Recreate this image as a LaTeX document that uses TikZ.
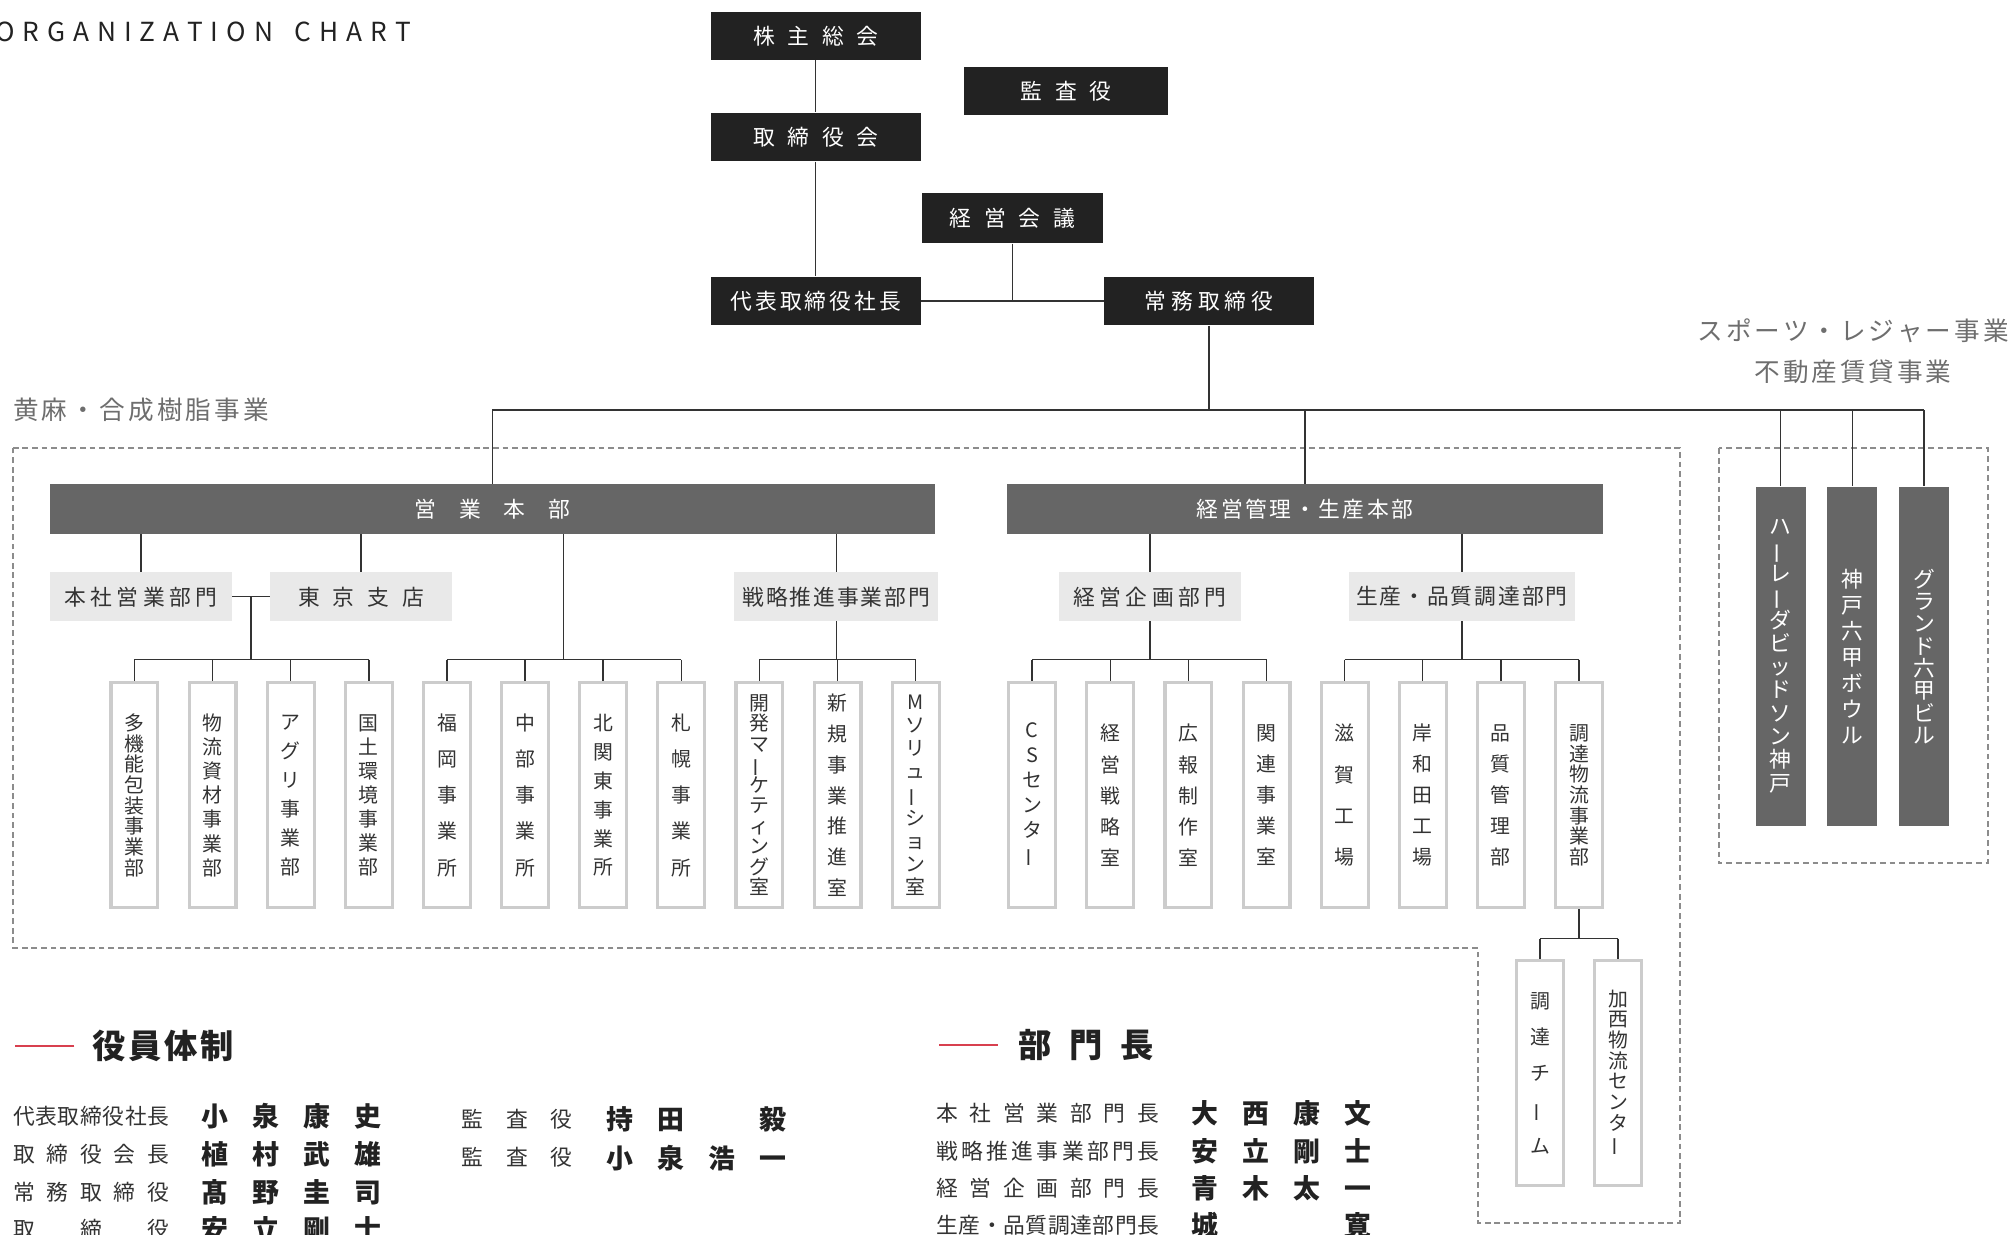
\documentclass[tikz,border=0pt]{standalone}
\usepackage{fontspec}
\setmainfont{Noto Sans CJK JP}
\usepackage{graphicx}
\usepackage{tikz}
\usetikzlibrary{positioning}
\definecolor{orgblack}{RGB}{34,34,34}
\definecolor{orgbar}{RGB}{102,102,102}
\definecolor{orglight}{RGB}{233,233,233}
\definecolor{orgframe}{RGB}{204,204,204}
\definecolor{orgline}{RGB}{51,51,51}
\definecolor{orgzone}{RGB}{140,140,140}
\definecolor{orgred}{RGB}{216,64,79}
\definecolor{orggray}{RGB}{110,110,110}

% letter spacing and vertical stacking of characters
\def\hstop{HSTOP}
\def\vstop{VSTOP}
\newcount\vcnt
\newdimen\vpitch
\newcommand{\spread}[2]{\def\spreadgap{#1}\expandafter\spreadfirst#2\hstop}
\def\spreadfirst#1{#1\spreadloop}
\def\spreadloop#1{\ifx#1\hstop\else\hspace{\spreadgap}#1\expandafter\spreadloop\fi}
\newcommand{\justify}[2]{\makebox[#1][l]{\spread{\fill}{#2}}}
\newcommand{\blank}{\phantom{田}}
\newcommand{\vbar}{\rotatebox[origin=c]{90}{ー}}
\def\vcountloop#1{\ifx#1\vstop\else\advance\vcnt by 1 \expandafter\vcountloop\fi}
\def\vputloop#1{\ifx#1\vstop\else\hbox to 1.2em{\hss#1\hss}\expandafter\vputloop\fi}
\newcommand{\vtext}[2]{\vcnt=0 \expandafter\vcountloop#2\vstop
  \vpitch=#1\relax\ifnum\vcnt>1 \divide\vpitch by \numexpr\vcnt-1\relax\fi
  \vbox{\baselineskip=\vpitch\lineskip=0pt\lineskiplimit=-1000pt\expandafter\vputloop#2\vstop}}

\begin{document}
\begin{tikzpicture}[x=1pt, y=-1pt,
    topbox/.style={fill=orgblack, text=white, inner sep=0pt, minimum width=164pt, minimum height=38pt, font=\fontsize{17}{20}\selectfont},
    hqbar/.style={fill=orgbar, text=white, inner sep=0pt, minimum height=39pt, font=\fontsize{17}{20}\selectfont},
    dept/.style={fill=orglight, text=orgline, inner sep=0pt, minimum width=142pt, minimum height=38pt, font=\fontsize{17}{20}\selectfont},
    unit/.style={draw=orgframe, line width=2.4pt, fill=white, text=orgline, inner sep=0pt, minimum width=36.6pt, minimum height=175.6pt, font=\fontsize{15.5}{15.5}\selectfont},
    lbox/.style={fill=orgbar, text=white, inner sep=0pt, minimum width=39pt, minimum height=265pt, font=\fontsize{17}{17}\selectfont},
    link/.style={draw=orgline, line width=1.1pt},
    zone/.style={draw=orgzone, line width=1.6pt, dash pattern=on 4.5pt off 3pt},
    grouplabel/.style={text=orggray, inner sep=0pt, font=\fontsize{20}{32}\selectfont},
    rowlabel/.style={text=orgline, inner sep=0pt, anchor=west, font=\fontsize{17}{20}\selectfont},
    rowname/.style={text=orgblack, inner sep=0pt, anchor=west, font=\fontsize{21}{24}\selectfont\bfseries},
    heading/.style={text=orgblack, inner sep=0pt, anchor=west, font=\fontsize{26}{30}\selectfont\bfseries}
]
\useasboundingbox (0,0) rectangle (1568,964);
\clip (0,0) rectangle (1568,964);

\node[text=orgblack, inner sep=0pt, anchor=west, font=\fontsize{20.5}{24}\selectfont] (title) at (-4,25) {\spread{6.2pt}{ORGANIZATION~CHART}};

% dashed business areas
\draw[zone] (10,350) -- (1312,350) -- (1312,955) -- (1154,955) -- (1154,740) -- (10,740) -- cycle;
\draw[zone] (1342,350) rectangle (1552,674);
\node[grouplabel, anchor=west] (jute) at (10,320) {\spread{2.5pt}{黄麻・合成樹脂事業}};
\node[grouplabel, align=center] (leisure) at (1447,274) {\spread{2.3pt}{スポーツ・レジャー事業}\\\spread{2.3pt}{不動産賃貸事業}};

% management
\node[topbox] (gm) at (637,28) {\spread{10pt}{株主総会}};
\node[topbox, minimum width=159pt] (aud) at (832.5,71) {\spread{10pt}{監査役}};
\node[topbox] (bd) at (637,107) {\spread{10pt}{取締役会}};
\node[topbox, minimum width=141pt, minimum height=39pt] (mc) at (790.5,170.5) {\spread{10pt}{経営会議}};
\node[topbox] (ceo) at (637,235) {\spread{2.3pt}{代表取締役社長}};
\node[topbox] (md) at (944,235) {\spread{4pt}{常務取締役}};
\coordinate (trunk) at (944,320);

\node[hqbar, minimum width=691pt] (sales) at (384.5,397.5) {\spread{18pt}{営業本部}};
\node[hqbar, minimum width=466pt] (mgmt) at (1019,397.5) {\spread{2pt}{経営管理・生産本部}};

\node[lbox] (r1) at (1390.5,512.5) {\vtext{200pt}{ハ\vbar レ\vbar ダビッドソン神戸}};
\node[lbox] (r2) at (1446.5,512.5) {\vtext{122pt}{神戸六甲ボウル}};
\node[lbox] (r3) at (1502.5,512.5) {\vtext{122pt}{グランド六甲ビル}};

\node[dept] (hq) at (110,466) {\spread{3.5pt}{本社営業部門}};
\node[dept] (tokyo) at (282,466) {\spread{10pt}{東京支店}};
\node[dept, minimum width=159pt] (strat) at (653,466) {\spread{1.5pt}{戦略推進事業部門}};
\node[dept] (plan) at (898,466) {\spread{3.5pt}{経営企画部門}};
\node[dept, minimum width=177pt] (prod) at (1141.5,466) {\spread{1.5pt}{生産・品質調達部門}};

\coordinate (g1) at (196,515);
\coordinate (g2) at (440,515);
\coordinate (g3) at (653,515);
\coordinate (g4) at (898,515);
\coordinate (g5) at (1141.5,515);
\coordinate (g6) at (1233,733);

\foreach \ux/\utxt/\ulen [count=\i] in {105/多機能包装事業部/113, 166/物流資材事業部/113, 227/アグリ事業部/113, 288/国土環境事業部/113,
    349/福岡事業所/113, 410/中部事業所/113, 471/北関東事業所/113, 532/札幌事業所/113,
    593/開発マ\vbar ケティング室/144, 654/新規事業推進室/144, 715/Mソリュ\vbar ション室/144,
    806/CSセンタ\vbar/97, 867/経営戦略室/97, 928/広報制作室/97, 989/関連事業室/97,
    1050/滋賀工場/97, 1111/岸和田工場/97, 1172/品質管理部/97, 1233/調達物流事業部/97}
  \node[unit] (u\i) at (\ux,621) {\vtext{\ulen pt}{\utxt}};
\node[unit] (s1) at (1202.5,838) {\vtext{113pt}{調達チ\vbar ム}};
\node[unit] (s2) at (1263.5,838) {\vtext{113pt}{加西物流センタ\vbar}};

% connectors
\draw[link] (gm) -- (bd);
\draw[link] (bd) -- (ceo);
\draw[link] (ceo) -- (md);
\draw[link] (mc.south) -- (mc.south |- ceo.east);
\draw[link] (md.south) -- (trunk);
\draw[link] (sales.north |- trunk) -- (r3.north |- trunk);
\draw[link] (sales.north |- trunk) -- (sales.north);
\draw[link] (mgmt.north |- trunk) -- (mgmt.north);
\foreach \r in {r1,r2,r3}
  \draw[link] (\r.north |- trunk) -- (\r.north);

\draw[link] (sales.south -| hq) -- (hq.north);
\draw[link] (sales.south -| tokyo) -- (tokyo.north);
\draw[link] (sales.south -| g2) -- (g2);
\draw[link] (sales.south -| strat) -- (strat.north);
\draw[link] (hq.east) -- (tokyo.west);
\draw[link] (hq.east -| g1) -- (g1);
\draw[link] (strat.south) -- (g3);
\draw[link] (mgmt.south -| plan) -- (plan.north);
\draw[link] (mgmt.south -| prod) -- (prod.north);
\draw[link] (plan.south) -- (g4);
\draw[link] (prod.south) -- (g5);

\draw[link] (u1.north |- g1) -- (u4.north |- g1);
\draw[link] (u5.north |- g2) -- (u8.north |- g2);
\draw[link] (u9.north |- g3) -- (u11.north |- g3);
\draw[link] (u12.north |- g4) -- (u15.north |- g4);
\draw[link] (u16.north |- g5) -- (u19.north |- g5);
\foreach \i in {1,...,19}
  \draw[link] (u\i.north |- g1) -- (u\i.north);
\draw[link] (u19.south) -- (g6);
\draw[link] (s1.north |- g6) -- (s2.north |- g6);
\draw[link] (s1.north |- g6) -- (s1.north);
\draw[link] (s2.north |- g6) -- (s2.north);

% officers and division heads
\node[heading] (officers) at (72,817) {\spread{2pt}{役員体制}};
\draw[orgred, line width=1.3pt] (officers.west) ++(-14,0) -- ++(-46,0);
\node[heading] (heads) at (795,816) {\spread{14pt}{部門長}};
\draw[orgred, line width=1.3pt] (heads.west) ++(-16,0) -- ++(-46,0);

\foreach \lab/\nm/\yy [count=\i] in {代表取締役社長/小泉康史/872, 取締役会長/植村武雄/901, 常務取締役/髙野圭司/931, 取締役/安立剛士/960}{
  \node[rowlabel] (el\i) at (10,\yy) {\justify{122pt}{\lab}};
  \node[rowname] (en\i) at (157.5,\yy) {\spread{18.7pt}{\nm}};
}
\foreach \nm/\yy [count=\i] in {持田\blank 毅/874, 小泉浩一/904}{
  \node[rowlabel] (al\i) at (360,\yy) {\justify{87pt}{監査役}};
  \node[rowname] (an\i) at (473.5,\yy) {\spread{18.7pt}{\nm}};
}
\foreach \lab/\nm/\yy [count=\i] in {本社営業部門長/大西康文/869, 戦略推進事業部門長/安立剛士/899, 経営企画部門長/青木太一/928, 生産・品質調達部門長/城\blank\blank 寛/957}{
  \node[rowlabel] (dl\i) at (731,\yy) {\justify{174pt}{\lab}};
  \node[rowname] (dn\i) at (930.5,\yy) {\spread{18.7pt}{\nm}};
}
\end{tikzpicture}
\end{document}
